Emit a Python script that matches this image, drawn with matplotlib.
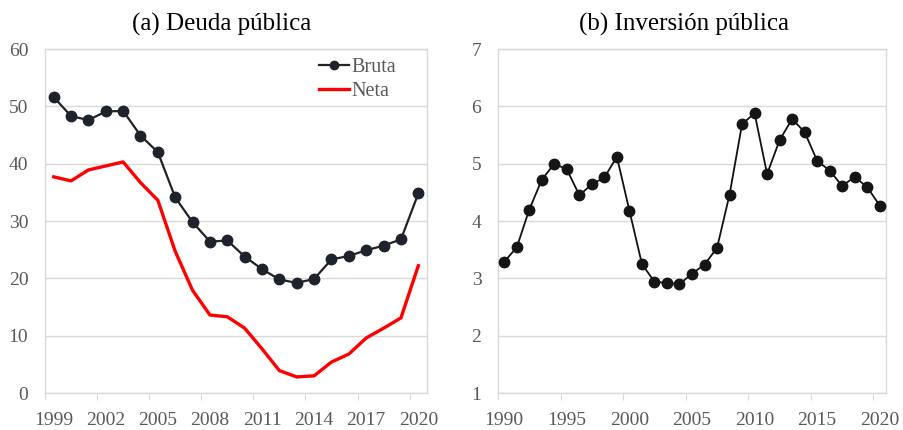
import matplotlib
matplotlib.use("Agg")
import matplotlib.pyplot as plt
import numpy as np

plt.rcParams['font.family'] = ['Liberation Serif', 'DejaVu Serif']

years_a = list(range(1999, 2021))
bruta = [51.6, 48.3, 47.6, 49.1, 49.2, 44.9, 42.0, 34.1, 29.8, 26.4, 26.6,
         23.8, 21.6, 19.8, 19.2, 19.9, 23.3, 23.9, 24.9, 25.7, 26.8, 34.8]
neta = [37.7, 37.0, 38.9, 39.6, 40.3, 36.7, 33.6, 24.7, 17.9, 13.6, 13.3,
        11.3, 7.7, 3.9, 2.8, 3.0, 5.4, 6.8, 9.6, 11.3, 13.1, 22.2]
tick_years_a = [1999, 2002, 2005, 2008, 2011, 2014, 2017, 2020]

years_b = list(range(1990, 2021))
inversion = [3.29, 3.54, 4.20, 4.72, 5.00, 4.90, 4.45, 4.64, 4.76, 5.12,
             4.18, 3.25, 2.94, 2.92, 2.90, 3.08, 3.24, 3.53, 4.46, 5.69,
             5.88, 4.82, 5.41, 5.78, 5.55, 5.05, 4.88, 4.61, 4.77, 4.59, 4.27]
tick_years_b = [1990, 1995, 2000, 2005, 2010, 2015, 2020]

titles = ["(a) Deuda pública", "(b) Inversión pública"]

W, H = 904, 430
fig = plt.figure(figsize=(W / 100, H / 100), dpi=100)
axA = fig.add_axes([45 / W, 1 - 393 / H, (427 - 45) / W, (393 - 49) / H])
axB = fig.add_axes([498 / W, 1 - 393 / H, (886 - 498) / W, (393 - 49) / H])

grid_c = '#d9d9d9'
tick_c = '#595959'
mark_c = '#1e222b'


def style(ax, years, tick_years, ylim, yticks):
    n = len(years)
    ax.set_xlim(0, n)
    ax.set_ylim(*ylim)
    ax.set_yticks(yticks)
    # tick marks between categories, labels centred on categories
    ax.set_xticks([y - years[0] for y in tick_years])
    ax.set_xticklabels([])
    ax.set_xticks([y - years[0] + 0.5 for y in tick_years], minor=True)
    ax.set_xticklabels([str(y) for y in tick_years], minor=True)
    ax.grid(axis='y', color=grid_c, linewidth=1.0)
    ax.set_axisbelow(True)
    for s in ax.spines.values():
        s.set_color(grid_c)
        s.set_linewidth(1.0)
    ax.tick_params(axis='y', length=0, labelsize=14, colors=tick_c, pad=12)
    ax.tick_params(axis='x', which='major', length=5, color=grid_c)
    ax.tick_params(axis='x', which='minor', length=0, labelsize=14,
                   colors=tick_c, pad=13.5)
    for lab in ax.get_xticklabels(minor=True) + ax.get_yticklabels():
        lab.set_color(tick_c)


xa = np.arange(len(years_a)) + 0.5
axA.plot(xa, bruta, color='#222222', linewidth=1.6, marker='o',
         markersize=7.5, markerfacecolor=mark_c, markeredgecolor=mark_c,
         label='Bruta', zorder=3)
axA.plot(xa, neta, color='#ff0000', linewidth=2.4, label='Neta', zorder=2)
style(axA, years_a, tick_years_a, (0, 60), range(0, 61, 10))
leg = axA.legend(loc='upper right', frameon=False, fontsize=14.5,
                 handlelength=1.5, handletextpad=0.1, labelspacing=0.25,
                 borderaxespad=0.0, bbox_to_anchor=(0.94, 0.998),
                 markerscale=0.8)
for t in leg.get_texts():
    t.set_color(tick_c)

xb = np.arange(len(years_b)) + 0.5
axB.plot(xb, inversion, color='#111111', linewidth=1.3, marker='o',
         markersize=7.5, markerfacecolor='#151515', markeredgecolor='#151515',
         zorder=3)
style(axB, years_b, tick_years_b, (1, 7), range(1, 8))

for ax, t, xc in zip([axA, axB], titles, [0.463, 0.479]):
    ax.set_title(t, fontsize=18, color='black', pad=13, x=xc)

fig.savefig('out.png', dpi=100)
